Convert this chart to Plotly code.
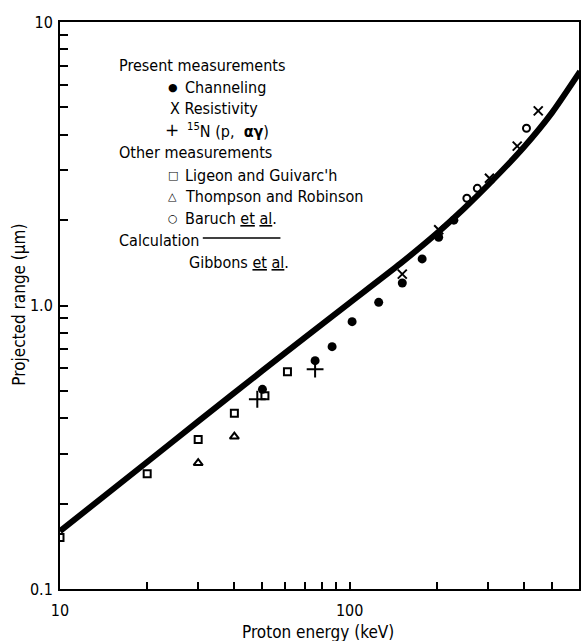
import plotly.graph_objects as go

# Calculation (Gibbons et al.)
calc_energy = [10, 20, 30, 50, 70, 100, 150, 200, 250, 300, 400, 500, 625]
calc_range = [0.16, 0.2805, 0.39, 0.589, 0.771, 1.022, 1.408, 1.798, 2.213, 2.656, 3.623, 4.79, 6.69]

# Present measurements
chan_energy = [50, 76, 87, 102, 126, 152, 178, 203, 229]
chan_range = [0.506, 0.639, 0.716, 0.877, 1.026, 1.20, 1.46, 1.74, 2.0]

res_energy = [152, 203, 304, 379, 448]
res_range = [1.29, 1.85, 2.81, 3.65, 4.86]

n15_energy = [48, 76]
n15_range = [0.467, 0.596]

# Other measurements
lig_energy = [10, 20, 30, 40, 51, 61]
lig_range = [0.152, 0.255, 0.337, 0.417, 0.48, 0.584]

tho_energy = [30, 40]
tho_range = [0.278, 0.345]

bar_energy = [254, 276, 408]
bar_range = [2.39, 2.59, 4.22]

x_tickvals = [10, 20, 30, 40, 50, 60, 70, 80, 90, 100, 200, 300, 400, 500]
x_ticktext = ["10", "", "", "", "", "", "", "", "", "100", "", "", "", ""]
y_tickvals = [0.1, 0.2, 0.3, 0.4, 0.5, 0.6, 0.7, 0.8, 0.9, 1.0,
              2, 3, 4, 5, 6, 7, 8, 9, 10]
y_ticktext = ["0.1", "", "", "", "", "", "", "", "", "1.0",
              "", "", "", "", "", "", "", "", "10"]

FONT = "Liberation Sans Narrow, DejaVu Sans Condensed, Arial Narrow, sans-serif"
SYMFONT = "DejaVu Sans, sans-serif"

fig = go.Figure()

fig.add_trace(go.Scatter(x=calc_energy, y=calc_range, mode="lines",
                         line=dict(color="black", width=6, shape="spline", smoothing=0.6),
                         showlegend=False))
fig.add_trace(go.Scatter(x=lig_energy, y=lig_range, mode="markers",
                         marker=dict(symbol="square-open", size=7, color="black",
                                     line=dict(width=2, color="black")), showlegend=False))
fig.add_trace(go.Scatter(x=tho_energy, y=tho_range, mode="markers",
                         marker=dict(symbol="triangle-up-open", size=8, color="black",
                                     line=dict(width=2, color="black")), showlegend=False))
fig.add_trace(go.Scatter(x=bar_energy, y=bar_range, mode="markers",
                         marker=dict(symbol="circle-open", size=7, color="black",
                                     line=dict(width=2, color="black")), showlegend=False))
fig.add_trace(go.Scatter(x=chan_energy, y=chan_range, mode="markers",
                         marker=dict(symbol="circle", size=9, color="black"), showlegend=False))
fig.add_trace(go.Scatter(x=res_energy, y=res_range, mode="markers",
                         marker=dict(symbol="x-thin-open", size=9, color="black",
                                     line=dict(width=2, color="black")), showlegend=False))
fig.add_trace(go.Scatter(x=n15_energy, y=n15_range, mode="markers",
                         marker=dict(symbol="cross-thin-open", size=12, color="black",
                                     line=dict(width=2, color="black")), showlegend=False))

L, R, T, B = 59.5, 1, 22, 52
W, H = 582, 641
pw = W - L - R
ph = H - T - B


def px(xp):
    return (xp - L) / pw


def py(yp):
    return (H - B - yp) / ph


annotations = []


def add_text(xp, yp, txt, size=16, family=FONT, anchor="left"):
    annotations.append(dict(x=px(xp), y=py(yp), xref="paper", yref="paper",
                            text=txt, showarrow=False, xanchor=anchor, yanchor="middle",
                            font=dict(family=family, size=size, color="black")))


legend_text = [
    (117, 65, "Present measurements"),
    (183, 87, "Channeling"),
    (168, 108, "X Resistivity"),
    (185, 130, "<sup>15</sup>N (p,  <b>αγ</b>)"),
    (117, 152, "Other measurements"),
    (183, 175, "Ligeon and Guivarc'h"),
    (183, 196, "Thompson and Robinson"),
    (183, 218, "Baruch <u>et</u> <u>al</u>."),
    (117, 240, "Calculation"),
    (187, 262, "Gibbons <u>et</u> <u>al</u>."),
]
for xp, yp, txt in legend_text:
    add_text(xp, yp, txt)

legend_keys = [
    (173, 87, "●", 11),
    (172, 130, "+", 17),
    (173, 175, "□", 11),
    (173, 196, "△", 11),
    (173, 218, "○", 11),
]
for xp, yp, ch, sz in legend_keys:
    add_text(xp, yp, ch, size=sz, family=SYMFONT, anchor="center")

add_text(319, 632, "Proton energy (keV)", size=17, anchor="center")
annotations.append(dict(x=px(18), y=py(305), xref="paper", yref="paper",
                        text="Projected range (μm)", showarrow=False, textangle=-90,
                        xanchor="center", yanchor="middle",
                        font=dict(family=FONT, size=17, color="black")))

shapes = [dict(type="line", xref="paper", yref="paper", x0=px(203), x1=px(281),
               y0=py(238), y1=py(238), line=dict(color="black", width=1.5))]

fig.update_layout(
    width=W, height=H,
    margin=dict(l=L, r=R, t=T, b=B, pad=0),
    paper_bgcolor="white", plot_bgcolor="white",
    annotations=annotations, shapes=shapes,
    font=dict(family=FONT, size=14, color="black"),
)
fig.update_xaxes(type="log", range=[1, 2.792], showgrid=False, zeroline=False,
                 showline=True, linecolor="black", linewidth=2, mirror=True,
                 ticks="inside", ticklen=7, tickwidth=1.5, tickcolor="black",
                 tickvals=x_tickvals, ticktext=x_ticktext, ticklabelstandoff=6,
                 tickfont=dict(family=FONT, size=16, color="black"))
fig.update_yaxes(type="log", range=[-1, 1], showgrid=False, zeroline=False,
                 showline=True, linecolor="black", linewidth=2, mirror=True,
                 ticks="inside", ticklen=8, tickwidth=1.5, tickcolor="black",
                 tickvals=y_tickvals, ticktext=y_ticktext, ticklabelstandoff=2,
                 tickfont=dict(family=FONT, size=16, color="black"))

fig.write_html("out.html")
